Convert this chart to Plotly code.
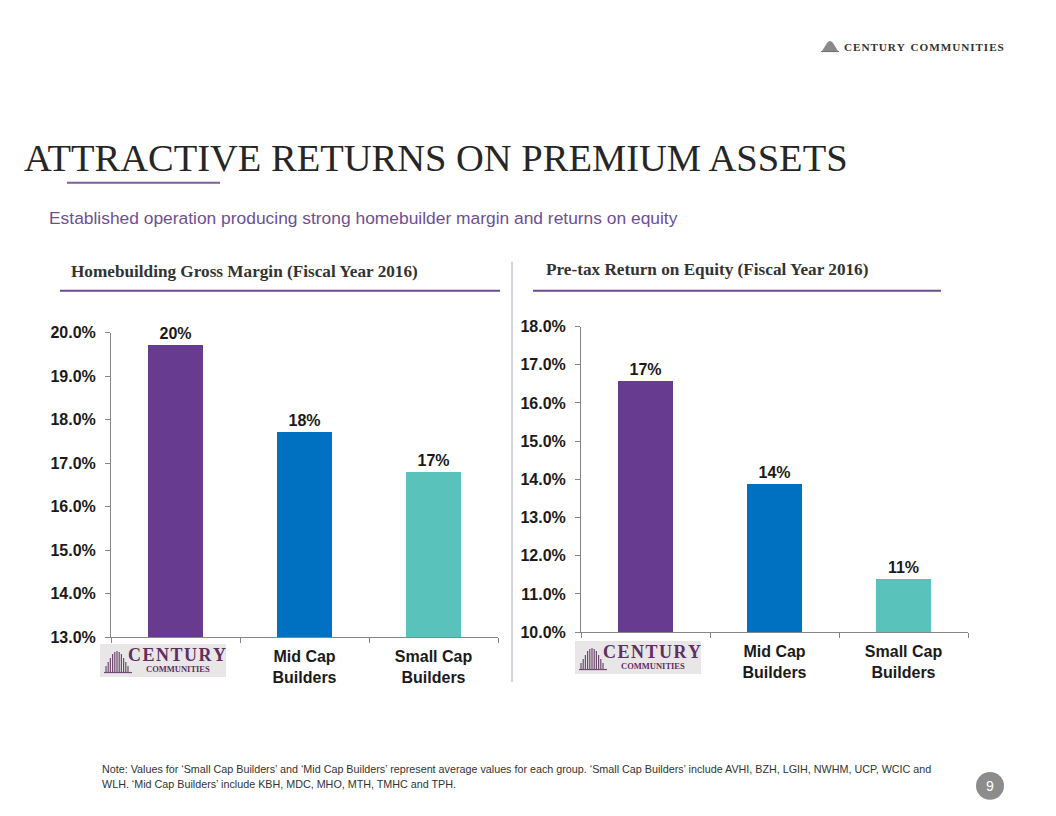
import plotly.graph_objects as go

W, H = 1056, 816
# the photographed page shows the figure shifted down ~7.85px and scaled vertically by ~0.9808
YOFF = 7.85
YSCALE = 0.9808

categories = ["Century Communities", "Mid Cap Builders", "Small Cap Builders"]
cat_labels = ["", "<b>Mid Cap</b><br><b>Builders</b>", "<b>Small Cap</b><br><b>Builders</b>"]
gross_margin = [19.72, 17.73, 16.81]
pretax_roe = [16.59, 13.90, 11.41]
bar_colors = ["#673B8F", "#0070C0", "#59C3BB"]

title_text = "ATTRACTIVE RETURNS ON PREMIUM ASSETS"
subtitle_text = "Established operation producing strong homebuilder margin and returns on equity"
left_title = "Homebuilding Gross Margin (Fiscal Year 2016)"
right_title = "Pre-tax Return on Equity (Fiscal Year 2016)"
note_line1 = ("Note: Values for \u2018Small Cap Builders\u2019 and \u2018Mid Cap Builders\u2019 represent average values for each group. "
              "\u2018Small Cap Builders\u2019 include AVHI, BZH, LGIH, NWHM, UCP, WCIC and")
note_line2 = "WLH. \u2018Mid Cap Builders\u2019 include KBH, MDC, MHO, MTH, TMHC and TPH."


def px(x):
    return x / W


def py(y):
    return 1 - ((y - YOFF) / YSCALE) / H


fig = go.Figure()

label_font = dict(family="Liberation Sans, Arial", size=16, color="#1a1a1a", weight="bold")

fig.add_trace(go.Bar(
    x=categories, y=gross_margin, marker=dict(color=bar_colors, line=dict(width=0)),
    width=0.42, text=[f"{round(v)}%" for v in gross_margin], textposition="outside",
    textfont=label_font, cliponaxis=False, xaxis="x", yaxis="y", hoverinfo="skip", showlegend=False))

fig.add_trace(go.Bar(
    x=categories, y=pretax_roe, marker=dict(color=bar_colors, line=dict(width=0)),
    width=0.42, text=[f"{round(v)}%" for v in pretax_roe], textposition="outside",
    textfont=label_font, cliponaxis=False, xaxis="x2", yaxis="y2", hoverinfo="skip", showlegend=False))

axis_font = dict(family="Liberation Sans, Arial", size=16, color="#1a1a1a", weight="bold")
xcommon = dict(type="category", tickmode="array", tickvals=categories, ticktext=cat_labels,
               showline=True, linecolor="#868686", linewidth=1, ticks="outside", tickson="boundaries",
               ticklen=5, tickcolor="#868686", tickfont=axis_font, showgrid=False, zeroline=False,
               ticklabelstandoff=5, fixedrange=True)
ycommon = dict(showline=True, linecolor="#868686", linewidth=1, ticks="outside", ticklen=5,
               tickcolor="#868686", tickfont=axis_font, showgrid=False, zeroline=False,
               tickformat=".1f", ticksuffix="%", dtick=1, ticklabelstandoff=6, fixedrange=True)

fig.update_layout(
    width=W, height=H, margin=dict(l=0, r=0, t=0, b=0),
    paper_bgcolor="white", plot_bgcolor="white", bargap=0,
    xaxis=dict(domain=[px(111), px(498)], anchor="y", **xcommon),
    yaxis=dict(domain=[py(638), py(333)], range=[13, 20], anchor="x", **ycommon),
    xaxis2=dict(domain=[px(581), px(968)], anchor="y2", **xcommon),
    yaxis2=dict(domain=[py(633), py(327)], range=[10, 18], anchor="x2", **ycommon),
)

shapes = []
annotations = []

# Title, underline
annotations.append(dict(text=title_text, x=px(22), y=py(158), xref="paper", yref="paper",
                        xanchor="left", yanchor="middle", showarrow=False,
                        font=dict(family="Liberation Serif, Times New Roman", size=38.5, color="#262626")))
shapes.append(dict(type="line", xref="paper", yref="paper", x0=px(67), x1=px(220), y0=py(183), y1=py(183),
                   line=dict(color="#7B5F9E", width=2)))
annotations.append(dict(text=subtitle_text, x=px(47), y=py(218), xref="paper", yref="paper",
                        xanchor="left", yanchor="middle", showarrow=False,
                        font=dict(family="Liberation Sans, Arial", size=17.4, color="#6E4F96")))

# Chart titles
for t, x0, y in [(left_title, 69, 272), (right_title, 544, 270)]:
    annotations.append(dict(text=f"<b>{t}</b>", x=px(x0), y=py(y), xref="paper", yref="paper",
                            xanchor="left", yanchor="middle", showarrow=False,
                            font=dict(family="Liberation Serif, Times New Roman", size=17.2, color="#333333")))
for x0, x1 in [(60, 500), (533, 941)]:
    shapes.append(dict(type="line", xref="paper", yref="paper", x0=px(x0), x1=px(x1), y0=py(291), y1=py(291),
                       line=dict(color="#6A4C8C", width=2)))

# separator
shapes.append(dict(type="line", xref="paper", yref="paper", x0=px(512), x1=px(512), y0=py(262), y1=py(683),
                   line=dict(color="#A9AABC", width=1)))

# Logos under first category
hs = "\u200a"
for bx, by in [(100, 645), (575, 642)]:
    shapes.append(dict(type="rect", xref="paper", yref="paper", x0=px(bx), x1=px(bx + 126), y0=py(by + 33), y1=py(by),
                       fillcolor="#E8E6E6", line=dict(width=0), layer="below"))
    heights = [6, 10, 14, 18, 20, 21, 20, 18, 14, 10, 6]
    base = by + 28
    for i, hgt in enumerate(heights):
        xx = bx + 6 + i * 2.2
        shapes.append(dict(type="line", xref="paper", yref="paper", x0=px(xx), x1=px(xx),
                           y0=py(base), y1=py(base - hgt), line=dict(color="#6E4A6E", width=1.2)))
    shapes.append(dict(type="line", xref="paper", yref="paper", x0=px(bx + 4), x1=px(bx + 32),
                       y0=py(base + 0.5), y1=py(base + 0.5), line=dict(color="#6E4A6E", width=1.2)))
    annotations.append(dict(text="<b>" + hs.join("CENTURY") + "</b>", x=px(bx + 77), y=py(by + 11),
                            xref="paper", yref="paper", xanchor="center", yanchor="middle", showarrow=False,
                            font=dict(family="Liberation Serif, Times New Roman", size=18, color="#5E2F62")))
    annotations.append(dict(text="<b>COMMUNITIES</b>", x=px(bx + 78), y=py(by + 25), xref="paper", yref="paper",
                            xanchor="center", yanchor="middle", showarrow=False,
                            font=dict(family="Liberation Serif, Times New Roman", size=8.5, color="#5E2F62")))

# Top-right logo
shapes.append(dict(type="path", xref="paper", yref="paper",
                   path=f"M {px(822)},{py(51)} L {px(827)},{py(43)} Q {px(830)},{py(39)} {px(833)},{py(43)} "
                        f"L {px(838)},{py(51)} Z",
                   fillcolor="#8A8A8A", line=dict(width=0)))
shapes.append(dict(type="line", xref="paper", yref="paper", x0=px(821), x1=px(839), y0=py(51.5), y1=py(51.5),
                   line=dict(color="#6A6A6A", width=1)))
annotations.append(dict(text="<b>" + hs.join("CENTURY") + "\u2002" + hs.join("COMMUNITIES") + "</b>",
                        x=px(842), y=py(47), xref="paper", yref="paper", xanchor="left", yanchor="middle",
                        showarrow=False,
                        font=dict(family="Liberation Serif, Times New Roman", size=11.2, color="#333333")))

# Note
for i, line in enumerate([note_line1, note_line2]):
    annotations.append(dict(text=line, x=px(100), y=py(770 + 15 * i), xref="paper", yref="paper",
                            xanchor="left", yanchor="middle", showarrow=False,
                            font=dict(family="Liberation Sans Narrow, Liberation Sans, Arial", size=10.75,
                                      color="#333333")))

# Page number
shapes.append(dict(type="circle", xref="paper", yref="paper", x0=px(976), x1=px(1004), y0=py(801), y1=py(773),
                   fillcolor="#8C8C8C", line=dict(width=0)))
annotations.append(dict(text="9", x=px(990), y=py(787), xref="paper", yref="paper", xanchor="center",
                        yanchor="middle", showarrow=False,
                        font=dict(family="Liberation Sans, Arial", size=14, color="white")))

fig.update_layout(shapes=shapes, annotations=annotations)
fig.write_html("out.html")
